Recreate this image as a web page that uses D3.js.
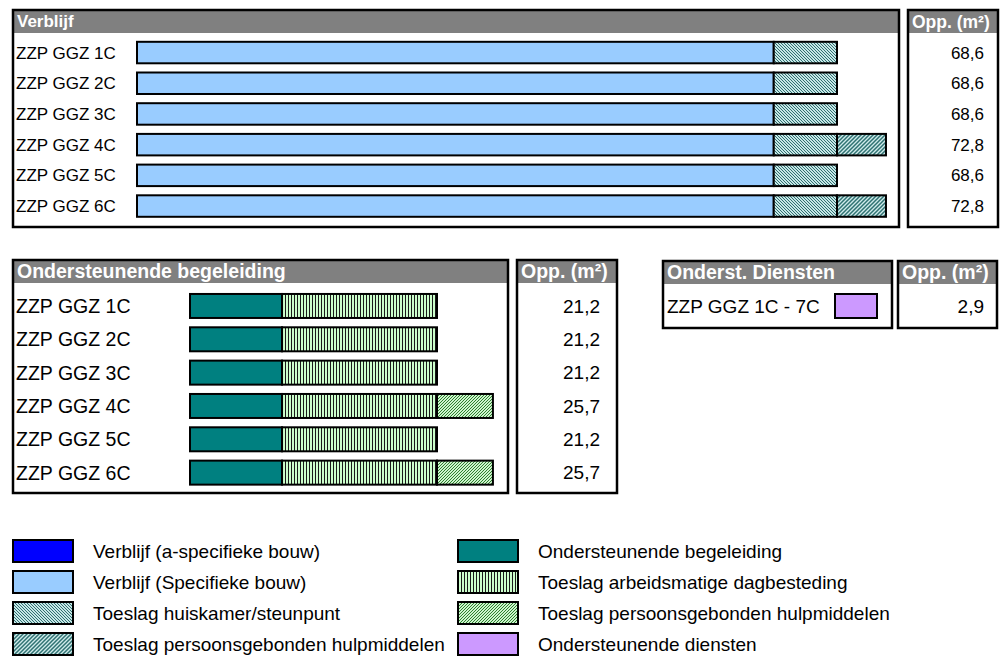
<!DOCTYPE html>
<html>
<head>
<meta charset="utf-8">
<script src="https://cdn.jsdelivr.net/npm/d3@7"></script>
<style>
  body { margin: 0; background: #fff; }
  svg { font-family: "Liberation Sans", Arial, sans-serif; display: block; }
</style>
</head>
<body>
<div id="chart"></div>
<script>
// data
const verblijfCats = ["ZZP GGZ 1C", "ZZP GGZ 2C", "ZZP GGZ 3C", "ZZP GGZ 4C", "ZZP GGZ 5C", "ZZP GGZ 6C"];
const verblijfSpecifiek = [62.4, 62.4, 62.4, 62.4, 62.4, 62.4];
const toeslagHuiskamer = [6.2, 6.2, 6.2, 6.2, 6.2, 6.2];
const toeslagPersoonsVerblijf = [0, 0, 0, 4.8, 0, 4.8];
const oppVerblijf = [68.6, 68.6, 68.6, 72.8, 68.6, 72.8];

const begeleidingCats = ["ZZP GGZ 1C", "ZZP GGZ 2C", "ZZP GGZ 3C", "ZZP GGZ 4C", "ZZP GGZ 5C", "ZZP GGZ 6C"];
const ondersteunendeBegeleiding = [7.9, 7.9, 7.9, 7.9, 7.9, 7.9];
const toeslagArbeid = [13.3, 13.3, 13.3, 13.3, 13.3, 13.3];
const toeslagPersoonsBegeleiding = [0, 0, 0, 4.8, 0, 4.8];
const oppBegeleiding = [21.2, 21.2, 21.2, 25.7, 21.2, 25.7];

const dienstenCats = ["ZZP GGZ 1C - 7C"];
const ondersteunendeDiensten = [2.9];
const oppDiensten = [2.9];

const legendLabels = [
  "Verblijf (a-specifieke bouw)", "Verblijf (Specifieke bouw)", "Toeslag huiskamer/steunpunt", "Toeslag persoonsgebonden hulpmiddelen",
  "Ondersteunende begeleiding", "Toeslag arbeidsmatige dagbesteding", "Toeslag persoonsgebonden hulpmiddelen", "Ondersteunende diensten"
];
const legendFills = ["#0000ff", "#99ccff", "url(#hatchHuis)", "url(#hatchPersTeal)", "#008080", "url(#vertArbeid)", "url(#hatchPersGreen)", "#cc99ff"];

const fmt = d3.formatLocale({decimal: ",", thousands: ".", grouping: [3], currency: ["", ""]}).format(".1f");

const width = 1003, height = 657;
const svg = d3.select("#chart").append("svg").attr("width", width).attr("height", height);

// patterns
const defs = svg.append("defs");
function diag(id, bg, fg, size, dir, sw) {
  const p = defs.append("pattern").attr("id", id).attr("patternUnits", "userSpaceOnUse")
    .attr("width", size).attr("height", size);
  p.append("rect").attr("width", size).attr("height", size).attr("fill", bg);
  const d = dir > 0
    ? `M0,${size} L${size},0 M${-size / 2},${size / 2} L${size / 2},${-size / 2} M${size / 2},${size * 1.5} L${size * 1.5},${size / 2}`
    : `M0,0 L${size},${size} M${-size / 2},${size / 2} L${size / 2},${size * 1.5} M${size / 2},${-size / 2} L${size * 1.5},${size / 2}`;
  p.append("path").attr("d", d).attr("stroke", fg).attr("stroke-width", sw);
}
diag("hatchHuis", "#c6e6e6", "#2f6f6f", 3, -1, 1);
diag("hatchPersTeal", "#cfeaea", "#2f7272", 4, 1, 1.5);
diag("hatchPersGreen", "#cdf5cd", "#2e7d2e", 3, 1, 1);
const va = defs.append("pattern").attr("id", "vertArbeid").attr("patternUnits", "userSpaceOnUse")
  .attr("width", 3).attr("height", 3);
va.append("rect").attr("width", 3).attr("height", 3).attr("fill", "#ccffcc");
va.append("rect").attr("x", 0).attr("width", 1).attr("height", 3).attr("fill", "#1a1a1a");

function panel(x, y, w, h, headH, title, fs) {
  const g = svg.append("g");
  g.append("rect").attr("x", x).attr("y", y + 1).attr("width", w).attr("height", headH).attr("fill", "#808080");
  g.append("rect").attr("x", x).attr("y", y).attr("width", w).attr("height", h)
    .attr("fill", "none").attr("stroke", "#000").attr("stroke-width", 2.5);
  g.append("text").attr("x", x + 4).attr("y", y + headH * 0.5 + fs * 0.38)
    .attr("fill", "#fff").attr("font-weight", "bold").attr("font-size", fs).text(title);
  return g;
}

function stackedBars(cats, keys, fills, xScale, yScale, labelX, fs) {
  const rows = cats.map((c, i) => {
    const r = {cat: c};
    keys.forEach(k => r[k.name] = k.values[i]);
    return r;
  });
  const series = d3.stack().keys(keys.map(k => k.name))(rows);
  const g = svg.append("g");
  series.forEach((s, si) => {
    g.selectAll(null).data(s.filter(d => d[1] - d[0] > 0)).enter().append("rect")
      .attr("x", d => xScale(d[0]))
      .attr("y", d => yScale(d.data.cat))
      .attr("width", d => xScale(d[1]) - xScale(d[0]))
      .attr("height", yScale.bandwidth())
      .attr("fill", fills[si])
      .attr("stroke", "#000").attr("stroke-width", 2);
  });
  g.selectAll(null).data(cats).enter().append("text")
    .attr("x", labelX)
    .attr("y", d => yScale(d) + yScale.bandwidth() / 2 + fs * 0.36)
    .attr("font-size", fs).text(d => d);
}

function oppColumn(cats, vals, yScale, rightX, fs) {
  svg.append("g").selectAll("text").data(vals).enter().append("text")
    .attr("x", rightX).attr("text-anchor", "end")
    .attr("y", (d, i) => yScale(cats[i]) + yScale.bandwidth() / 2 + fs * 0.36)
    .attr("font-size", fs).text(d => fmt(d));
}

// Verblijf panel
panel(13, 10, 886, 217, 22, "Verblijf", 17);
panel(908, 10, 90, 217, 22, "Opp. (m²)", 17.5);
const yTop = d3.scaleBand().domain(verblijfCats).range([37.2, 221.4]).paddingInner(0.3).paddingOuter(0.15);
const xTop = d3.scaleLinear().domain([0, 68.6]).range([137, 837]);
stackedBars(verblijfCats,
  [{name: "spec", values: verblijfSpecifiek}, {name: "huis", values: toeslagHuiskamer}, {name: "pers", values: toeslagPersoonsVerblijf}],
  ["#99ccff", "url(#hatchHuis)", "url(#hatchPersTeal)"], xTop, yTop, 16, 17);
oppColumn(verblijfCats, oppVerblijf, yTop, 984, 17);

// Ondersteunende begeleiding panel
panel(13, 260, 495, 233, 22, "Ondersteunende begeleiding", 19.5);
panel(517, 260, 100, 233, 22, "Opp. (m²)", 19.5);
const yMid = d3.scaleBand().domain(begeleidingCats).range([289.3, 489.3]).paddingInner(0.28).paddingOuter(0.14);
const xMid = d3.scaleLinear().domain([0, 21.2]).range([190, 437]);
stackedBars(begeleidingCats,
  [{name: "beg", values: ondersteunendeBegeleiding}, {name: "arb", values: toeslagArbeid}, {name: "pers", values: toeslagPersoonsBegeleiding}],
  ["#008080", "url(#vertArbeid)", "url(#hatchPersGreen)"], xMid, yMid, 16, 19.5);
oppColumn(begeleidingCats, oppBegeleiding, yMid, 600, 19);

// Onderst. Diensten panel
panel(663, 261, 229, 67, 22, "Onderst. Diensten", 19.5);
panel(898, 261, 99, 67, 22, "Opp. (m²)", 19.5);
const yDienst = d3.scaleBand().domain(dienstenCats).range([294, 318]);
const xDienst = d3.scaleLinear().domain([0, 2.9]).range([835, 877]);
stackedBars(dienstenCats, [{name: "dienst", values: ondersteunendeDiensten}], ["#cc99ff"], xDienst, yDienst, 667, 19);
oppColumn(dienstenCats, oppDiensten, yDienst, 984, 19);

// legend
const leg = svg.append("g");
const legItems = leg.selectAll("g").data(legendLabels).enter().append("g")
  .attr("transform", (d, i) => `translate(${i < 4 ? 13 : 458},${551 + (i % 4) * 31})`);
legItems.append("rect").attr("x", 0).attr("y", -11).attr("width", 60).attr("height", 22)
  .attr("fill", (d, i) => legendFills[i]).attr("stroke", "#000").attr("stroke-width", 2);
legItems.append("text").attr("x", 80).attr("y", 7).attr("font-size", 19).text(d => d);
</script>
</body>
</html>
